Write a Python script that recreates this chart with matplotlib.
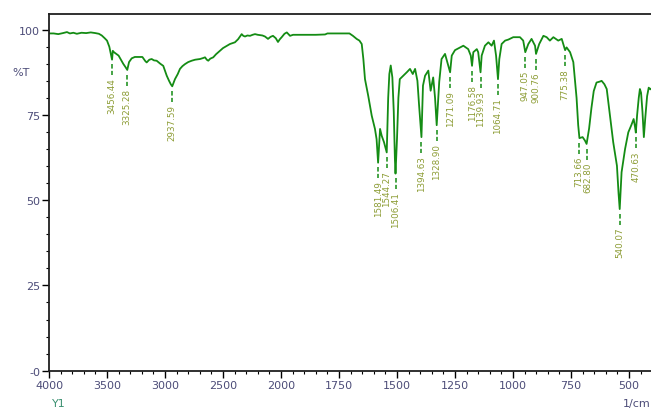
import numpy as np
import matplotlib
matplotlib.use("Agg")
import matplotlib.pyplot as plt
from matplotlib.ticker import FixedLocator

# IR spectrum (wavenumber in 1/cm, transmittance in %T)
wavenumber = [
    4000, 3960, 3920, 3880, 3845, 3820, 3790, 3760, 3720, 3680, 3640, 3600,
    3570, 3545, 3520, 3500, 3480, 3468, 3456.44, 3450, 3440, 3420, 3400, 3380,
    3360, 3340, 3325.28, 3310, 3287, 3260, 3230, 3195, 3170, 3158, 3135, 3115,
    3095, 3072, 3040, 3015, 2995, 2985, 2965, 2950, 2937.59, 2925, 2914, 2890,
    2871, 2850, 2828, 2800, 2770, 2740, 2698, 2670, 2655, 2640, 2627, 2610,
    2584, 2560, 2540, 2520, 2500, 2470, 2440, 2397, 2370, 2339, 2325, 2310,
    2290, 2267, 2245, 2224, 2200, 2181, 2160, 2138, 2112, 2090, 2069, 2045,
    2026, 2010, 1997, 1985, 1975, 1961, 1948, 1900, 1850, 1810, 1800, 1750,
    1705, 1690, 1674, 1662, 1652, 1645, 1638, 1624, 1609, 1595, 1588, 1581.49,
    1573, 1566, 1556, 1544.27, 1538, 1533, 1527, 1520, 1514, 1509, 1506.41,
    1500, 1494, 1488, 1473, 1458, 1444, 1432, 1422, 1412, 1405, 1394.63, 1388,
    1379, 1365, 1355, 1344, 1336, 1328.90, 1318, 1308, 1293, 1283, 1271.09,
    1264, 1250, 1228, 1214, 1193, 1182, 1176.58, 1171, 1156, 1150, 1139.93,
    1135, 1121, 1106, 1092, 1082, 1073, 1064.71, 1059, 1049, 1034, 1020, 999,
    970, 956, 947.05, 934, 920, 905, 900.76, 887, 869, 855, 841, 826, 805, 790,
    775.38, 769, 754, 740, 726, 719, 713.66, 700, 690, 682.80, 672, 662, 652,
    640, 625, 618, 606, 596, 582, 568, 552, 545, 540.07, 532, 517, 503, 490,
    480, 474, 470.63, 465, 458, 453, 448, 442, 436, 430, 422, 415, 408, 400,
]
transmittance = [
    98.9, 98.9, 98.7, 99.0, 99.3, 98.9, 99.1, 98.8, 99.1, 99.0, 99.2, 99.0,
    98.8, 98.3, 97.5, 96.8, 95.0, 93.0, 91.2, 93.8, 93.4, 92.9, 92.4, 91.2,
    90.0, 89.0, 88.2, 90.5, 91.6, 92.0, 92.0, 92.0, 90.8, 90.4, 91.2, 91.4,
    91.0, 90.9, 90.0, 89.4, 87.5, 86.5, 85.0, 84.0, 83.4, 84.5, 85.5, 87.0,
    88.5, 89.3, 89.9, 90.5, 90.9, 91.2, 91.4, 91.7, 91.9, 91.2, 90.9, 91.5,
    91.9, 92.8, 93.4, 94.0, 94.6, 95.2, 95.8, 96.3, 97.2, 98.7, 98.2, 98.0,
    98.3, 98.2, 98.5, 98.7, 98.5, 98.4, 98.3, 98.0, 97.3, 97.9, 98.2, 97.5,
    96.4, 97.2, 97.8, 98.8, 99.2, 98.2, 98.5, 98.5, 98.5, 98.6, 98.9, 98.9,
    98.9, 98.2, 97.3, 96.8, 95.8, 91.4, 85.5, 80.6, 74.8, 70.9, 67.9, 61.0,
    70.9, 68.9, 67.0, 64.0, 80.0, 87.0, 89.5, 86.0, 76.0, 62.0, 57.8,
    68.0, 80.0, 85.5, 86.5, 87.5, 88.5, 87.0, 88.5, 85.0, 78.0, 68.5, 83.6,
    86.5, 88.0, 82.1, 86.0, 80.0, 72.0, 84.7, 91.4, 92.9, 90.4, 87.5,
    92.4, 94.0, 94.8, 95.3, 94.3, 92.4, 89.4, 93.4, 94.3, 93.4, 87.5,
    92.4, 95.3, 96.3, 95.3, 96.8, 92.4, 85.5, 91.4, 95.8, 96.8, 97.1, 97.8,
    97.8, 96.8, 93.4, 95.8, 97.3, 95.3, 92.9, 95.8, 98.2, 97.8, 96.8, 97.8, 96.8, 97.3,
    94.0, 94.8, 93.4, 90.5, 80.0, 72.0, 68.2, 68.5, 67.5, 66.5, 71.0, 77.0, 82.0,
    84.5, 84.8, 85.0, 84.0, 82.6, 74.8, 67.0, 60.1, 52.0, 47.4, 58.2, 65.0, 69.9, 72.0,
    73.8, 71.5, 69.8, 75.0, 80.0, 82.6, 81.5, 76.0, 68.5, 74.0, 80.5, 83.0, 82.5, 83.0,
]

peak_labels = [
    "3456.44", "3325.28", "2937.59", "1581.49", "1544.27", "1506.41",
    "1394.63", "1328.90", "1271.09", "1176.58", "1139.93", "1064.71",
    "947.05", "900.76", "775.38", "713.66", "682.80", "540.07", "470.63",
]

x_major = [4000, 3500, 3000, 2500, 2000, 1750, 1500, 1250, 1000, 750, 500]
x_major_labels = ["4000", "3500", "3000", "2500", "2000", "1750", "1500",
                  "1250", "1000", "750", "500"]
y_major = [0, 25, 50, 75, 100]
y_major_labels = ["-0", "25", "50", "75", "100"]

CURVE = "#148c14"
LABEL = "#8c9c34"
TICKTXT = "#4c4c78"


# double-scale wavenumber axis: 500/div above 2000, 250/div below
def fwd(w):
    w = np.asarray(w, dtype=float)
    return np.where(w >= 2000, (w - 2000) / 500.0, (w - 2000) / 250.0)


def inv(u):
    u = np.asarray(u, dtype=float)
    return np.where(u >= 0, 2000 + 500.0 * u, 2000 + 250.0 * u)


fig = plt.figure(figsize=(6.51, 4.10), dpi=100)
ax = fig.add_axes([49 / 651, 38.3 / 410, 603.2 / 651, 356.7 / 410])
ax.set_xscale("function", functions=(fwd, inv))

ax.plot(wavenumber, transmittance, color=CURVE, linewidth=1.3)

# peak markers: short dashed line under each dip, then rotated value
w_arr = np.array(wavenumber)[::-1]
t_arr = np.array(transmittance)[::-1]
text_shift = {"713.66": 4, "682.80": -4}
for lab in peak_labels:
    pw = float(lab)
    pt = np.interp(pw, w_arr, t_arr)
    ax.plot([pw, pw], [pt - 1.4, pt - 4.6], color=CURVE, linewidth=1.1,
            linestyle=(0, (3, 1.5)))
    ax.text(pw + text_shift.get(lab, 0), pt - 5.2, lab, rotation=90,
            ha="center", va="top", fontsize=6.3, color=LABEL)

ax.set_xlim(4000, 400)
ax.set_ylim(0, 104.6)

ax.xaxis.set_major_locator(FixedLocator(x_major))
ax.set_xticklabels(x_major_labels)
x_minor = list(range(3900, 2000, -100)) + list(range(1950, 400, -50))
ax.xaxis.set_minor_locator(FixedLocator(x_minor))
ax.set_yticks(y_major)
ax.set_yticklabels(y_major_labels)
ax.yaxis.set_minor_locator(FixedLocator(list(range(5, 105, 5))))

ax.tick_params(which="major", direction="out", length=5, width=1.0,
               labelsize=8, labelcolor=TICKTXT, pad=1.5)
ax.tick_params(which="minor", direction="out", length=2.5, width=0.8)
for s in ax.spines.values():
    s.set_linewidth(1.3)
    s.set_color("#202020")

fig.text(12 / 651, 1 - 73 / 410, "%T", fontsize=8, color=TICKTXT,
         va="center", ha="left")
fig.text(52 / 651, 1 - 404 / 410, "Y1", fontsize=8, color="#3a9070",
         va="center", ha="left")
fig.text(1.0, 1 - 404 / 410, "1/cm", fontsize=8, color=TICKTXT,
         va="center", ha="right")

fig.savefig("out.png", dpi=100)
